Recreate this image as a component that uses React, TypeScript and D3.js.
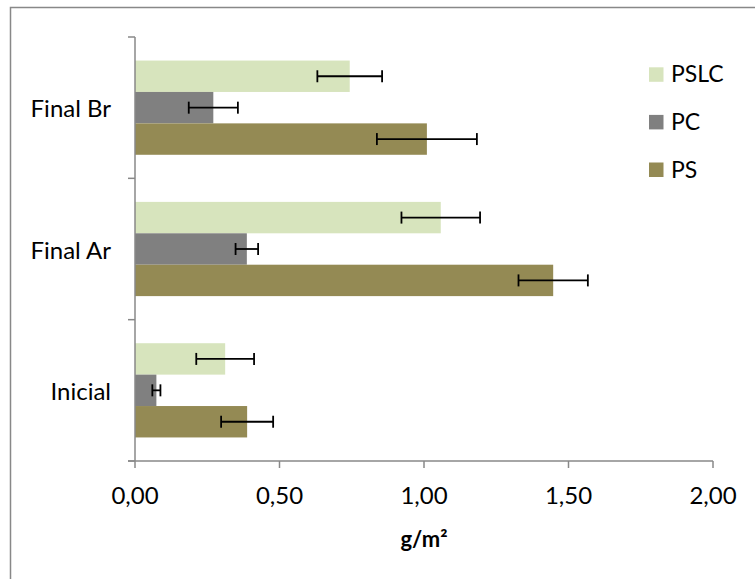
import React from "react";
import * as d3 from "d3";

const categories = ["Inicial", "Final Ar", "Final Br"];
const seriesNames = ["PSLC", "PC", "PS"];
const psValues = [0.388, 1.447, 1.01];
const psErrors = [0.09, 0.12, 0.173];
const pcValues = [0.074, 0.387, 0.271];
const pcErrors = [0.014, 0.039, 0.085];
const pslcValues = [0.312, 1.058, 0.743];
const pslcErrors = [0.1, 0.136, 0.112];
const xTicks = [0, 0.5, 1, 1.5, 2];
const xTitle = "g/m²";

const seriesData: Record<string, { values: number[]; errors: number[]; color: string }> = {
  PSLC: { values: pslcValues, errors: pslcErrors, color: "#D7E4BD" },
  PC: { values: pcValues, errors: pcErrors, color: "#808080" },
  PS: { values: psValues, errors: psErrors, color: "#948A54" },
};

const W = 755;
const H = 579;
const FONT = "Lato, 'Open Sans', sans-serif";
const AXIS = "#888888";

export default function App() {
  const x = d3.scaleLinear().domain([0, 2]).range([135, 713]);
  const y = d3
    .scaleBand<string>()
    .domain([...categories].reverse())
    .range([37, 461])
    .paddingInner(1 / 3)
    .paddingOuter(1 / 6);
  const inner = d3.scaleBand<string>().domain(seriesNames).range([0, y.bandwidth()]);
  const step = y.step();
  const catTicks = d3.range(categories.length + 1).map((i) => 37 + i * step);
  const fmt = (v: number) => d3.format(".2f")(v).replace(".", ",");

  return (
    <svg
      width={W}
      height={H}
      style={{ position: "absolute", left: 0, top: 0, background: "#fff" }}
      fontFamily={FONT}
    >
      <rect x={10.5} y={7.5} width={W + 20} height={H + 20} fill="#fff" stroke={AXIS} strokeWidth={1.5} />

      {/* bars */}
      {categories.map((c, ci) =>
        seriesNames.map((s) => {
          const d = seriesData[s];
          const v = d.values[ci];
          const e = d.errors[ci];
          const y0 = (y(c) as number) + (inner(s) as number);
          const h = inner.bandwidth();
          const cy = y0 + h / 2;
          return (
            <g key={c + s}>
              <rect x={x(0)} y={y0} width={x(v) - x(0)} height={h} fill={d.color} />
              <line x1={x(v - e)} x2={x(v + e)} y1={cy} y2={cy} stroke="#000" strokeWidth={1.8} />
              <line x1={x(v - e)} x2={x(v - e)} y1={cy - 6} y2={cy + 6} stroke="#000" strokeWidth={1.8} />
              <line x1={x(v + e)} x2={x(v + e)} y1={cy - 6} y2={cy + 6} stroke="#000" strokeWidth={1.8} />
            </g>
          );
        })
      )}

      {/* y axis */}
      <line x1={x(0)} x2={x(0)} y1={37} y2={461} stroke={AXIS} strokeWidth={1.5} />
      {catTicks.map((t, i) => (
        <line key={i} x1={128} x2={x(0)} y1={t} y2={t} stroke={AXIS} strokeWidth={1.5} />
      ))}
      {categories.map((c) => (
        <text
          key={c}
          x={111}
          y={(y(c) as number) + y.bandwidth() / 2}
          textAnchor="end"
          dominantBaseline="central"
          fontSize={24}
          fill="#000"
        >
          {c}
        </text>
      ))}

      {/* x axis */}
      <line x1={128} x2={x(2)} y1={461} y2={461} stroke={AXIS} strokeWidth={1.5} />
      {xTicks.map((t) => (
        <g key={t}>
          <line x1={x(t)} x2={x(t)} y1={461} y2={468} stroke={AXIS} strokeWidth={1.5} />
          <text x={x(t)} y={504} textAnchor="middle" fontSize={24} fill="#000">
            {fmt(t)}
          </text>
        </g>
      ))}
      <text x={(x(0) + x(2)) / 2} y={547} textAnchor="middle" fontSize={22} fontWeight="bold" fill="#000">
        {xTitle}
      </text>

      {/* legend */}
      {seriesNames.map((s, i) => {
        const ly = 67.3 + i * 47.6;
        return (
          <g key={s}>
            <rect x={649} y={ly} width={14.5} height={14.5} fill={seriesData[s].color} />
            <text x={671} y={ly + 15} fontSize={23} fill="#000">
              {s}
            </text>
          </g>
        );
      })}
    </svg>
  );
}
